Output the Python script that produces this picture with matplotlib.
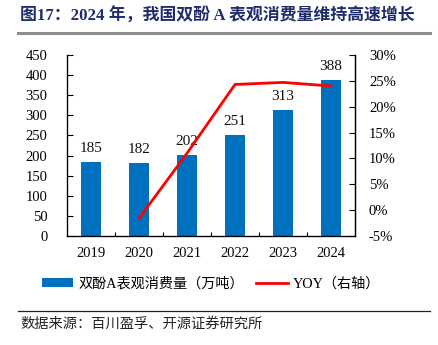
import matplotlib
matplotlib.use("Agg")
import matplotlib.pyplot as plt
from matplotlib.lines import Line2D
from matplotlib.patches import Patch
from matplotlib.ticker import FuncFormatter, FixedLocator

plt.rcParams['font.family'] = ['Liberation Serif', 'Noto Sans CJK SC']

years = ["2019", "2020", "2021", "2022", "2023", "2024"]
consumption = [185, 182, 202, 251, 313, 388]          # 万吨
yoy_years = ["2020", "2021", "2022", "2023", "2024"]
yoy = [-1.6, 11.0, 24.3, 24.7, 24.0]                  # %

title = "图17：2024 年，我国双酚 A 表观消费量维持高速增长"
bar_label = "双酚A表观消费量（万吨）"
line_label = "YOY（右轴）"
source = "数据来源：百川盈孚、开源证券研究所"

W, H = 439, 345
fig = plt.figure(figsize=(W / 100, H / 100), dpi=100)

def px(x0, y0, x1, y1):
    return [x0 / W, 1 - y1 / H, (x1 - x0) / W, (y1 - y0) / H]

ax = fig.add_axes(px(67, 55, 355, 236))
xs = list(range(len(years)))
blue = "#0070C0"
ax.bar(xs, consumption, width=0.42, color=blue, zorder=2)
for x, v in zip(xs, consumption):
    ax.annotate(f"{v}", (x, v), xytext=(0, 5), textcoords="offset points",
                ha="center", va="bottom", fontsize=11, color="#111111")

ax.set_xlim(-0.5, len(years) - 0.5)
ax.set_ylim(0, 450)
ax.set_yticks(range(0, 451, 50))
ax.set_xticks(xs)
ax.set_xticklabels(years)
ax.xaxis.set_minor_locator(FixedLocator([i + 0.5 for i in range(len(years) - 1)]))
ax.tick_params(axis="x", which="major", length=0, pad=8, labelsize=10.5)
ax.tick_params(axis="x", which="minor", direction="in", length=3, width=0.8)
ax.tick_params(axis="y", direction="in", length=4, width=0.8, labelsize=10.5, pad=14)
ax.spines["top"].set_visible(False)
for s in ("left", "bottom", "right"):
    ax.spines[s].set_linewidth(0.9)

ax2 = ax.twinx()
yx = [years.index(y) for y in yoy_years]
ax2.plot(yx, yoy, color="#FF0000", lw=2, zorder=3)
ax2.set_ylim(-5, 30)
ax2.set_yticks(range(-5, 31, 5))
ax2.yaxis.set_major_formatter(FuncFormatter(lambda v, p: f"{v:.0f}%"))
ax2.tick_params(axis="y", direction="in", length=4, width=0.8, labelsize=10.5, pad=10)
ax2.spines["top"].set_visible(False)
ax2.spines["right"].set_linewidth(0.9)

# title and rule
fig.text(20 / W, 1 - 16 / H, title, fontsize=12.2, fontweight="bold",
         color="#1F2D6B", va="center", ha="left")
fig.add_artist(Line2D([18 / W, 430 / W], [1 - 33 / H] * 2, color="#8C8C8C", lw=2.2))

# legend
handles = [Patch(facecolor=blue, edgecolor="none", label=bar_label),
           Line2D([], [], color="#FF0000", lw=2, label=line_label)]
fig.legend(handles=handles, loc="center", bbox_to_anchor=(211 / W, 1 - 284 / H), ncol=2,
           frameon=False, fontsize=10.2, handlelength=2.2, handleheight=0.6,
           columnspacing=0.9, handletextpad=0.35)

# source line
fig.add_artist(Line2D([18 / W, 430 / W], [1 - 311 / H] * 2, color="#222222", lw=0.9))
fig.text(20 / W, 1 - 324 / H, source, fontsize=10.3, color="#222222",
         va="center", ha="left")

fig.savefig("out.png", dpi=100)
